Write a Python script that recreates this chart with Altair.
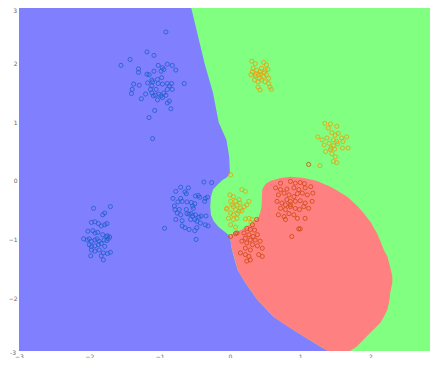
import altair as alt
import pandas as pd

# ---- decision-region boundaries (data coordinates) ----
# left edge of the non-blue zone (blue | green/red boundary), y from top to bottom
bound_y = [3.0, 2.5, 2.0, 1.5, 1.0, 0.7, 0.41, 0.13, 0.06, 0.01, -0.07, -0.15, -0.27, -0.44,
           -0.58, -0.69, -0.79, -0.88, -0.94, -1.18, -1.52, -1.74, -2.03, -2.32, -2.59, -2.83,
           -2.97, -3.0]
bound_x = [-0.56, -0.46, -0.36, -0.24, -0.16, -0.05, -0.01, 0.0, -0.04, -0.11, -0.18, -0.24,
           -0.27, -0.28, -0.27, -0.23, -0.16, -0.06, 0.0, 0.03, 0.11, 0.22, 0.39, 0.62, 0.96,
           1.29, 1.50, 1.54]

# red region: left and right edges for each y
region_red_y = [0.07, 0.05, 0.0, -0.05, -0.10, -0.15, -0.27, -0.44, -0.55, -0.61, -0.72, -0.83,
                -0.89, -0.94, -1.18, -1.29, -1.52, -1.63, -1.74, -1.91, -2.03, -2.20, -2.32,
                -2.42, -2.59, -2.76, -2.83, -2.91, -2.97, -3.0]
region_red_left = [0.86, 0.72, 0.58, 0.51, 0.48, 0.46, 0.455, 0.45, 0.43, 0.41, 0.32, 0.17, 0.06,
                   0.0, 0.03, 0.06, 0.11, 0.16, 0.22, 0.32, 0.39, 0.53, 0.62, 0.74, 0.96, 1.19,
                   1.29, 1.40, 1.50, 1.54]
region_red_right = [0.86, 1.05, 1.23, 1.33, 1.43, 1.50, 1.67, 1.82, 1.90, 1.94, 2.01, 2.06, 2.09,
                    2.11, 2.19, 2.24, 2.29, 2.31, 2.31, 2.28, 2.27, 2.24, 2.19, 2.14, 2.00, 1.86,
                    1.80, 1.70, 1.64, 1.62]

# ---- scatter points ----
blue_x = [-0.91, -1.18, -1.08, -1.42, -1.55, -1.30, -1.30, -1.18, -1.15, -1.08, -1.02, -0.96, -0.94,
          -0.98, -0.89, -0.82, -0.77, -0.97, -1.03, -1.11, -1.17, -1.10, -1.02, -0.96, -0.89, -0.83,
          -0.65, -1.37, -1.29, -1.39, -1.40, -1.20, -1.11, -1.09, -1.06, -1.01, -0.94, -0.91, -0.89,
          -0.82, -0.86, -1.26, -1.03, -0.98, -0.89, -0.86, -0.84, -1.07, -1.15, -1.10, -1.11, -1.13,
          -0.96, -1.05,
          -1.94, -1.70, -1.81, -1.78, -1.97, -1.92, -1.87, -1.83, -1.78, -1.75, -2.02, -1.95, -1.92,
          -1.88, -1.81, -1.76, -1.74, -1.71, -2.08, -2.03, -2.00, -1.97, -1.92, -1.89, -1.86, -1.79,
          -1.75, -1.73, -2.00, -1.97, -1.92, -1.87, -1.83, -1.78, -1.97, -1.92, -1.86, -1.80, -1.74,
          -1.70, -1.98, -1.83, -1.80,
          -0.37, -0.26, -0.70, -0.59, -0.77, -0.64, -0.62, -0.49, -0.45, -0.43, -0.81, -0.70, -0.74,
          -0.68, -0.61, -0.55, -0.50, -0.35, -0.32, -0.36, -0.79, -0.78, -0.72, -0.62, -0.53, -0.52,
          -0.75, -0.70, -0.61, -0.58, -0.55, -0.53, -0.49, -0.44, -0.41, -0.34, -0.77, -0.68, -0.56,
          -0.50, -0.47, -0.42, -0.35, -0.31, -0.93, -0.68, -0.64, -0.58, -0.50, -0.47, -0.48]
blue_y = [2.54, 2.20, 2.14, 2.07, 1.97, 1.91, 1.85, 1.82, 1.81, 1.87, 1.97, 1.93, 1.90, 1.87, 1.99,
          1.97, 1.89, 1.76, 1.73, 1.72, 1.67, 1.69, 1.66, 1.65, 1.66, 1.66, 1.66, 1.65, 1.63, 1.56,
          1.49, 1.48, 1.50, 1.45, 1.46, 1.48, 1.50, 1.46, 1.56, 1.56, 1.62, 1.40, 1.38, 1.45, 1.33,
          1.36, 1.23, 1.20, 1.08, 0.72, 1.62, 1.56, 1.42, 1.56,
          -0.47, -0.44, -0.58, -0.55, -0.71, -0.70, -0.73, -0.77, -0.75, -0.73, -0.86, -0.85, -0.89,
          -0.88, -0.92, -0.95, -0.94, -0.96, -0.99, -1.01, -0.99, -1.03, -1.01, -0.99, -1.03, -1.01,
          -1.02, -0.99, -1.09, -1.12, -1.11, -1.09, -1.07, -1.12, -1.18, -1.20, -1.18, -1.23, -1.24,
          -1.22, -1.28, -1.28, -1.35,
          -0.02, -0.03, -0.11, -0.12, -0.18, -0.19, -0.22, -0.26, -0.25, -0.28, -0.30, -0.30, -0.36,
          -0.35, -0.36, -0.37, -0.39, -0.30, -0.28, -0.35, -0.43, -0.49, -0.49, -0.49, -0.43, -0.47,
          -0.55, -0.58, -0.56, -0.57, -0.56, -0.60, -0.58, -0.62, -0.60, -0.60, -0.66, -0.68, -0.66,
          -0.66, -0.69, -0.72, -0.75, -0.77, -0.81, -0.77, -0.80, -0.83, -0.85, -0.80, -1.00]

orange_x = [0.31, 0.36, 0.48, 0.33, 0.38, 0.43, 0.45, 0.50, 0.54, 0.30, 0.36, 0.41, 0.44, 0.48,
            0.52, 0.55, 0.35, 0.40, 0.45, 0.50, 0.55, 0.40, 0.43, 0.57, 0.59, 0.32, 0.52, 0.37,
            0.42, 0.49,
            1.35, 1.43, 1.40, 1.52, 1.45, 1.50, 1.54, 1.25, 1.31, 1.38, 1.47, 1.52, 1.59, 1.66,
            1.34, 1.41, 1.47, 1.53, 1.61, 1.68, 1.60, 1.36, 1.43, 1.45, 1.50, 1.47, 1.52, 1.28,
            1.44, 1.49,
            0.01, 0.17, 0.22, 0.00, 0.05, 0.01, 0.08, 0.13, 0.03, 0.05, 0.10, 0.15, 0.20, 0.24,
            -0.04, 0.08, 0.13, 0.17, 0.01, 0.05, 0.11, -0.02, 0.05, 0.10, 0.22, 0.27, 0.32, 0.01,
            0.08, 0.30, -0.05, 0.14, 0.27]
orange_y = [2.04, 2.00, 2.02, 1.92, 1.89, 1.86, 1.92, 1.89, 1.90, 1.81, 1.79, 1.81, 1.82, 1.78,
            1.81, 1.75, 1.72, 1.69, 1.72, 1.69, 1.66, 1.60, 1.55, 1.60, 1.56, 1.86, 1.98, 1.82,
            1.75, 1.85,
            0.98, 0.97, 0.90, 0.93, 0.82, 0.78, 0.81, 0.75, 0.70, 0.73, 0.70, 0.67, 0.73, 0.75,
            0.61, 0.64, 0.60, 0.63, 0.67, 0.56, 0.56, 0.50, 0.53, 0.46, 0.41, 0.33, 0.31, 0.26,
            0.56, 0.54,
            0.10, -0.15, -0.18, -0.24, -0.27, -0.35, -0.35, -0.32, -0.41, -0.44, -0.41, -0.47,
            -0.44, -0.41, -0.47, -0.49, -0.52, -0.51, -0.55, -0.58, -0.56, -0.64, -0.66, -0.64,
            -0.65, -0.64, -0.66, -0.75, -0.79, -0.71, -0.48, -0.38, -0.35]

red_x = [0.72, 0.86, 0.93, 1.00, 1.06, 0.65, 0.72, 0.81, 0.91, 0.98, 1.07, 1.15, 0.69, 0.77, 0.84,
         0.91, 0.96, 1.03, 1.10, 1.18, 0.67, 0.74, 0.81, 0.86, 0.93, 1.00, 1.07, 1.17, 0.72, 0.79,
         0.86, 0.93, 0.99, 1.05, 1.12, 0.69, 0.77, 0.84, 0.91, 0.96, 1.07, 0.79, 0.88, 0.98, 0.86,
         0.79, 1.00,
         0.32, 0.38, 0.24, 0.29, 0.35, 0.20, 0.27, 0.33, 0.39, 0.01, 0.10, 0.22, 0.29, 0.36, 0.43,
         0.17, 0.24, 0.32, 0.39, 0.22, 0.29, 0.46, 0.15, 0.22, 0.27, 0.41, 0.46, 0.24, 0.29, 0.08,
         1.12]
red_y = [-0.04, -0.01, -0.04, -0.03, -0.05, -0.12, -0.15, -0.14, -0.12, -0.15, -0.12, -0.10, -0.24,
         -0.21, -0.24, -0.27, -0.22, -0.21, -0.24, -0.21, -0.35, -0.38, -0.32, -0.35, -0.35, -0.34,
         -0.38, -0.35, -0.47, -0.49, -0.44, -0.47, -0.49, -0.44, -0.47, -0.58, -0.61, -0.56, -0.58,
         -0.64, -0.64, -0.66, -0.95, -0.82, -0.41, -0.41, -0.82,
         -0.75, -0.66, -0.81, -0.83, -0.84, -0.89, -0.92, -0.95, -0.92, -0.95, -0.89, -0.98, -1.01,
         -1.01, -1.03, -1.03, -1.06, -1.09, -1.11, -1.15, -1.18, -1.15, -1.23, -1.26, -1.29, -1.26,
         -1.29, -1.37, -1.35, -0.90,
         0.28]

classes = ["0", "1", "2"]
region_colors = ["#8080FF", "#80FF80", "#FF8080"]
point_colors = ["#2260d0", "#f0a010", "#d24a14"]

x_ticks = [-3, -2, -1, 0, 1, 2]
y_ticks = [-3, -2, -1, 0, 1, 2, 3]
y_bottom_label = [-3]            # y tick labels at the very edges of the y range
y_top_label = [3]
x_domain = [-3, 2.846]
y_domain = [-2.904, 2.949]
label_color = "#666666"
label_size = 6

xscale = alt.Scale(domain=x_domain, nice=False, zero=False)
yscale = alt.Scale(domain=y_domain, nice=False, zero=False)
xaxis = alt.Axis(values=x_ticks, title=None, labelFlush=False)
yaxis = alt.Axis(values=y_ticks, title=None, labelFlush=False)

bg_df = pd.DataFrame({"x": [-3.0], "x2": [3.0], "y": [-3.0], "y2": [3.0]})
green_df = pd.DataFrame({"y": bound_y, "x": bound_x, "x2": [3.0] * len(bound_y)})
red_df = pd.DataFrame({"y": region_red_y, "x": region_red_left, "x2": region_red_right})
bottom_df = pd.DataFrame({"v": y_bottom_label, "label": [str(v) for v in y_bottom_label]})
top_df = pd.DataFrame({"v": y_top_label, "label": [str(v) for v in y_top_label]})

pts = pd.DataFrame({
    "x": blue_x + orange_x + red_x,
    "y": blue_y + orange_y + red_y,
    "cls": ["0"] * len(blue_x) + ["1"] * len(orange_x) + ["2"] * len(red_x),
})

bg = alt.Chart(bg_df).mark_rect(color=region_colors[0], clip=True).encode(
    x=alt.X("x:Q", scale=xscale, axis=xaxis), x2="x2:Q",
    y=alt.Y("y:Q", scale=yscale, axis=yaxis), y2="y2:Q",
)
green = alt.Chart(green_df).mark_area(orient="horizontal", color=region_colors[1], clip=True).encode(
    y=alt.Y("y:Q", scale=yscale, axis=yaxis),
    x=alt.X("x:Q", scale=xscale, axis=xaxis), x2="x2:Q",
)
red = alt.Chart(red_df).mark_area(orient="horizontal", color=region_colors[2], clip=True).encode(
    y=alt.Y("y:Q", scale=yscale, axis=yaxis),
    x=alt.X("x:Q", scale=xscale, axis=xaxis), x2="x2:Q",
)
points = alt.Chart(pts).mark_point(shape="circle", filled=False, size=17, strokeWidth=1,
                                   opacity=0.85, clip=True).encode(
    x=alt.X("x:Q", scale=xscale, axis=xaxis),
    y=alt.Y("y:Q", scale=yscale, axis=yaxis),
    color=alt.Color("cls:N", scale=alt.Scale(domain=classes, range=point_colors), legend=None),
)
bottom_label = alt.Chart(bottom_df).mark_text(
    align="right", baseline="middle", dx=-3, dy=-4, fontSize=label_size, color=label_color,
    font="DejaVu Sans",
).encode(x=alt.value(0), y=alt.Y("v:Q", scale=yscale, axis=yaxis), text="label:N")
top_label = alt.Chart(top_df).mark_text(
    align="right", baseline="top", dx=-2, dy=3, fontSize=label_size, color=label_color,
    font="DejaVu Sans",
).encode(x=alt.value(0), y=alt.Y("v:Q", scale=yscale, axis=yaxis), text="label:N")

chart = alt.layer(bg, green, red, points, bottom_label, top_label).properties(
    width=411, height=343,
    autosize=alt.AutoSizeParams(type="none"),
    padding={"left": 11, "top": 0, "right": 0, "bottom": 7},
).configure_view(stroke=None).configure_axis(
    domain=False, ticks=False, grid=False, labelFontSize=label_size, labelColor=label_color,
    labelPadding=2, labelFont="DejaVu Sans",
)

chart.save("out.html", embed_options={"renderer": "svg", "actions": False})
